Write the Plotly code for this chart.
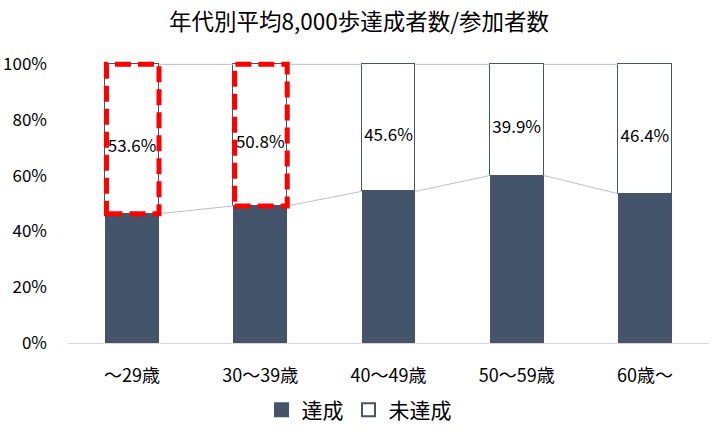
import plotly.graph_objects as go

categories = ["～29歳", "30～39歳", "40～49歳", "50～59歳", "60歳～"]
achieved = [46.4, 49.2, 54.4, 60.1, 53.6]
not_achieved = [53.6, 50.8, 45.6, 39.9, 46.4]
highlight = [True, True, False, False, False]

DARK = "#44546A"
FONT = "Noto Sans CJK JP"
BW = 0.42
xs = list(range(len(categories)))

fig = go.Figure()
fig.add_trace(go.Bar(x=xs, y=[v / 100 for v in achieved], name="達成", width=BW,
                     marker=dict(color=DARK, line=dict(width=0)), hoverinfo="skip",
                     showlegend=False))
fig.add_trace(go.Bar(x=xs, y=[v / 100 for v in not_achieved], name="未達成", width=BW,
                     marker=dict(color="white", line=dict(color=DARK, width=1.5)),
                     hoverinfo="skip", showlegend=False, cliponaxis=False))

# series lines
lx, ly = [], []
for i in range(len(xs) - 1):
    lx += [xs[i] + BW / 2, xs[i + 1] - BW / 2, None]
    ly += [achieved[i] / 100, achieved[i + 1] / 100, None]
    lx += [xs[i] + BW / 2, xs[i + 1] - BW / 2, None]
    ly += [1, 1, None]
fig.add_trace(go.Scatter(x=lx, y=ly, mode="lines", line=dict(color="#BFBFBF", width=1),
                         showlegend=False, hoverinfo="skip"))

# data labels in the middle of the white segments
fig.add_trace(go.Scatter(x=xs, y=[(a + n / 2) / 100 for a, n in zip(achieved, not_achieved)],
                         mode="text", text=[f"{v:.1f}%" for v in not_achieved],
                         textposition="bottom center",
                         textfont=dict(size=17, color="black", family=FONT),
                         showlegend=False, hoverinfo="skip", cliponaxis=False))

# legend entries
fig.add_trace(go.Scatter(x=[None], y=[None], mode="markers", name="達成",
                         marker=dict(symbol="square", size=15, color=DARK)))
fig.add_trace(go.Scatter(x=[None], y=[None], mode="markers", name="未達成",
                         marker=dict(symbol="square", size=13, color="white",
                                     line=dict(color=DARK, width=2))))

for i, h in enumerate(highlight):
    if h:
        fig.add_shape(type="rect", xref="x", yref="y",
                      x0=xs[i] - BW / 2 + 0.01, x1=xs[i] + BW / 2,
                      y0=achieved[i] / 100, y1=1,
                      line=dict(color="#FF0000", width=5, dash="16px,7px"))

fig.update_layout(
    barmode="stack",
    width=718, height=432,
    margin=dict(l=68, r=9, t=61, b=89, autoexpand=False),
    paper_bgcolor="white", plot_bgcolor="white",
    font=dict(family=FONT, color="black"),
    title=dict(text="年代別平均8,000歩達成者数/参加者数", x=0.5, xanchor="center",
               y=1 - 22 / 432, yanchor="middle", font=dict(size=22.5, color="black", family=FONT)),
    legend=dict(orientation="h", xref="container", x=0.5, xanchor="center", yref="container",
                y=1 - 410 / 432, yanchor="middle", itemwidth=30,
                font=dict(size=21, color="black", family=FONT), traceorder="normal"),
    bargap=0,
)
fig.update_xaxes(range=[-0.5, 4.5], tickvals=xs, ticktext=categories, showgrid=False,
                 showline=True, linecolor="#D9D9D9", linewidth=1, zeroline=False,
                 ticks="", tickfont=dict(size=18, color="black"), ticklabelstandoff=16,
                 automargin=False)
fig.update_yaxes(range=[0, 1.012], tickvals=[0, 0.2, 0.4, 0.6, 0.8, 1.0], tickformat=".0%",
                 showgrid=False, zeroline=False, showline=False,
                 tickfont=dict(size=17, color="black"), ticklabelstandoff=20,
                 automargin=False)

fig.write_html("out.html", config={"displayModeBar": False},
               post_script="document.body.style.margin='0px';")
